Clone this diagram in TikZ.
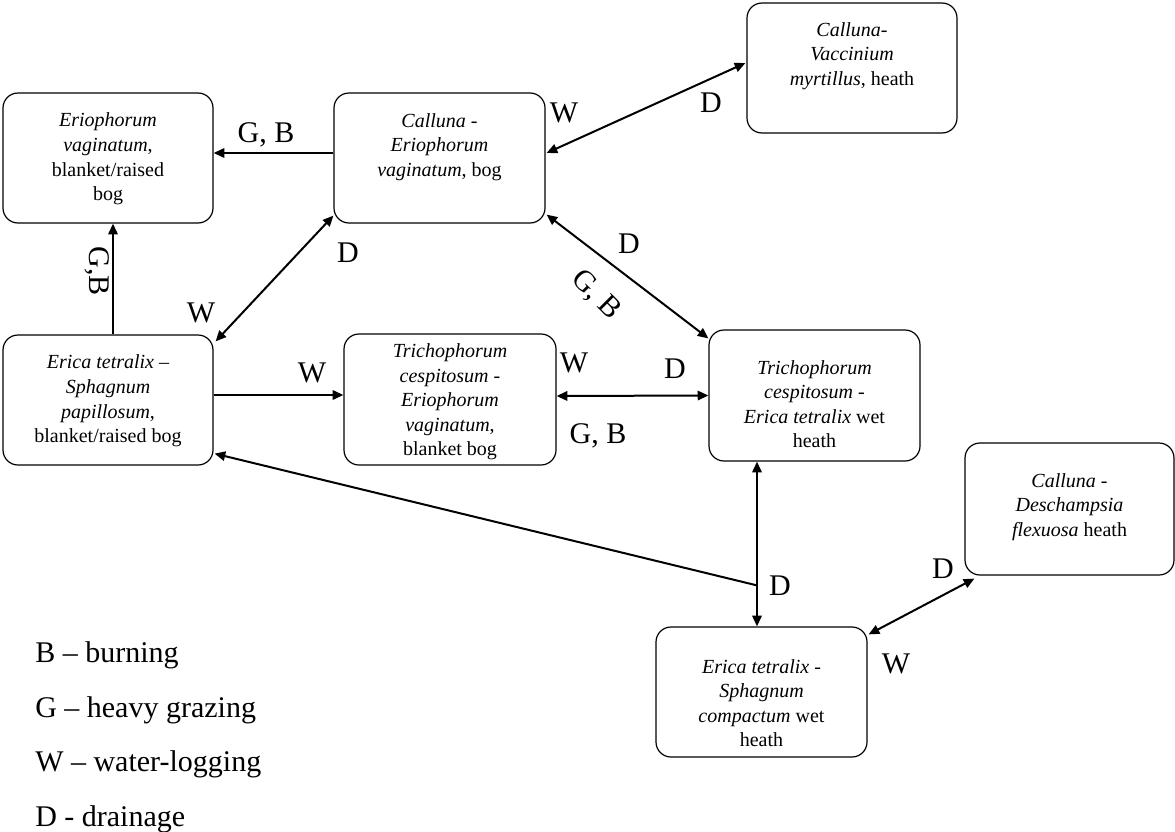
\documentclass[tikz,border=0pt]{standalone}
\usepackage{fontspec}
\setmainfont{Liberation Serif}
\usetikzlibrary{arrows.meta,calc}
\begin{document}
\begin{tikzpicture}[x=0.75pt,y=-0.75pt,
  box/.style={draw, rounded corners=11.25pt, line width=0.9pt, minimum width=157.5pt, minimum height=97.5pt, inner sep=0pt},
  boxtxt/.style={align=center, inner sep=0pt, font=\fontsize{15}{18.4}\selectfont},
  lab/.style={inner sep=0pt, anchor=base, font=\fontsize{22.5}{27}\selectfont},
  leg/.style={inner sep=0pt, anchor=base west, font=\fontsize{22.5}{27}\selectfont},
  arr/.style={line width=1.5pt, -{Triangle[length=8pt,width=7pt]}},
  darr/.style={line width=1.5pt, {Triangle[length=8pt,width=7pt]}-{Triangle[length=8pt,width=7pt]}},
  plain/.style={line width=1.5pt}]
\useasboundingbox (0,0) rectangle (1175,832);

% boxes
\node[box] (A) at (108,158) {};
\node[box, minimum width=158.25pt] (B) at (439.5,158) {};
\node[box] (D) at (852,68) {};
\node[box] (C) at (108,400) {};
\node[box, minimum width=159pt, minimum height=98.25pt] (E) at (450,399.5) {};
\node[box, minimum width=158.25pt, minimum height=98.25pt] (F) at (814.5,395.5) {};
\node[box, minimum width=156.75pt, minimum height=99pt] (G) at (1069.5,509) {};
\node[box, minimum width=158.25pt] (H) at (761.5,692) {};

% box texts
\node[boxtxt] (At) at (108,159) {\textit{Eriophorum}\\\textit{vaginatum},\\blanket/raised\\bog};
\node[boxtxt] (Bt) at (439.5,147) {\textit{Calluna} -\\\textit{Eriophorum}\\\textit{vaginatum}, bog};
\node[boxtxt] (Dt) at (852,56) {\textit{Calluna-}\\\textit{Vaccinium}\\\textit{myrtillus}, heath};
\node[boxtxt] (Ct) at (108,401) {\textit{Erica tetralix} --\\\textit{Sphagnum}\\\textit{papillosum},\\blanket/raised bog};
\node[boxtxt] (Et) at (450,402) {\textit{Trichophorum}\\\textit{cespitosum -}\\\textit{Eriophorum}\\\textit{vaginatum},\\blanket bog};
\node[boxtxt] (Ft) at (814.5,404) {\textit{Trichophorum}\\\textit{cespitosum -}\\\textit{Erica tetralix} wet\\heath};
\node[boxtxt] (Gt) at (1069.5,507) {\textit{Calluna} -\\\textit{Deschampsia}\\\textit{flexuosa} heath};
\node[boxtxt] (Ht) at (761.5,703) {\textit{Erica tetralix} -\\\textit{Sphagnum}\\\textit{compactum} wet\\heath};

% connectors
\draw[arr] ($(B.west)+(0,-5)$) -- ($(A.east)+(0,-5)$);
\draw[arr] ($(C.north)+(5,0)$) -- ($(A.south)+(5,0)$);
\draw[darr] ($(C.north east)+(2,7)$) -- ($(B.south west)+(0,-8)$);
\draw[darr] ($(B.east)+(1,-5)$) -- ($(D.west)+(-1,-5)$);
\draw[darr] ($(B.south east)+(1,-9)$) -- ($(F.north west)+(0,9)$);
\draw[arr] ($(C.east)+(0,-5)$) -- ($(E.west)+(0,-4.5)$);
\draw[darr] ($(E.east)+(0,-3.5)$) -- (F.west);
\draw[darr] ($(F.south)+(-57.5,0)$) -- ($(H.north)+(-4.5,0)$);
\coordinate (J) at ($(H.north)+(-4.5,-41)$);
\draw[arr] (J) -- ($(C.south east)+(1,-12)$);
\draw[darr] ($(H.north east)+(1,8)$) -- ($(G.south west)+(10,3)$);

% connector labels
\node[lab] (lGBa) at (266,142) {G, B};
\node[lab, rotate=-90] (lGBb) at (89,271) {G,B};
\node[lab] (lWa) at (201,322) {W};
\node[lab] (lDa) at (348,262) {D};
\node[lab] (lWb) at (564,122) {W};
\node[lab] (lDb) at (711,112) {D};
\node[lab] (lDc) at (629,253) {D};
\node[lab, anchor=center, rotate=-45] (lGBc) at (596,295) {G, B};
\node[lab] (lWc) at (312,382) {W};
\node[lab] (lWd) at (574,372) {W};
\node[lab] (lDd) at (675,378) {D};
\node[lab] (lGBd) at (598,443) {G, B};
\node[lab] (lDe) at (780,595) {D};
\node[lab] (lDf) at (943,578) {D};
\node[lab] (lWe) at (896,673) {W};

% legend
\node[leg] (legB) at (35,662) {B -- burning};
\node[leg] (legG) at (35,717) {G -- heavy grazing};
\node[leg] (legW) at (35,771) {W -- water-logging};
\node[leg] (legD) at (35,826) {D - drainage};
\end{tikzpicture}
\end{document}
